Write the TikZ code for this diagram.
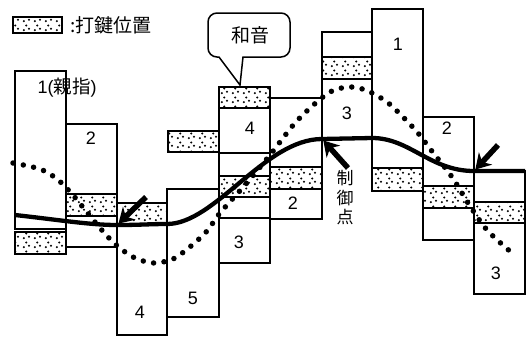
\documentclass[tikz,border=0pt]{standalone}
\usepackage{fontspec}
\setmainfont{Liberation Sans}
\newfontfamily\jp{Noto Sans CJK JP}
\usepackage{tikz}
\usetikzlibrary{patterns}
\usetikzlibrary{arrows.meta}
\pgfdeclarepatternformonly{keydots}{\pgfpointorigin}{\pgfpoint{11pt}{9pt}}{\pgfpoint{11pt}{9pt}}{%
	\pgfpathcircle{\pgfpoint{2pt}{2pt}}{1.2pt}
	\pgfpathcircle{\pgfpoint{7.5pt}{3.5pt}}{1.2pt}
	\pgfpathcircle{\pgfpoint{4.5pt}{7pt}}{1.2pt}
	\pgfusepath{fill}}
\tikzset{
	keybox/.style={draw, line width=1.7pt},
	keyhit/.style={keybox, pattern=keydots},
	num/.style={font=\fontsize{18}{18}\selectfont},
	jptext/.style={font=\jp\fontsize{19}{19}\selectfont},
	dotcurve/.style={line width=5.5pt, line cap=round, dash pattern=on 0pt off 10.5pt},
	ctrlcurve/.style={line width=4.3pt},
	ctrlarrow/.style={line width=5.5pt, -{Stealth[length=15pt,width=18pt]}, shorten >=2pt}
}

\begin{document}
\begin{tikzpicture}[x=1pt,y=-1pt]
			\useasboundingbox (0,0) rectangle (528,338);
			\draw[keyhit] (13,17) rectangle (62,33);
			\node[jptext, anchor=west] (legend) at (67,25) {:打鍵位置};
			
			\draw[keybox] (15,71) rectangle (66,229);
			\draw[keyhit] (15,232) rectangle (66,254);
			\draw[keybox] (66,124) rectangle (117,247);
			\draw[keyhit] (66,194) rectangle (117,216);
			\draw[keybox] (117,203) rectangle (167,335);
			\draw[keyhit] (117,203) rectangle (167,224);
			\draw[keybox] (167,189) rectangle (219,317);
			\draw[keyhit] (168,131) rectangle (219,152);
			\draw[keyhit] (219,87) rectangle (270,108);
			\draw[keybox] (219,108) rectangle (270,153);
			\draw[keybox] (219,153) rectangle (270,218);
			\draw[keyhit] (219,176) rectangle (270,197);
			\draw[keybox] (219,218) rectangle (270,263);
			\draw[keybox] (270,98) rectangle (322,219);
			\draw[keyhit] (270,167) rectangle (322,189);
			\draw[keybox] (322,32) rectangle (372,139);
			\draw[keyhit] (322,57) rectangle (372,79);
			\draw[keybox] (372,9) rectangle (423,168);
			\draw[keyhit] (372,168) rectangle (423,191);
			\draw[keybox] (423,117) rectangle (474,240);
			\draw[keyhit] (423,186) rectangle (474,208);
			\draw[keybox] (474,171) rectangle (525,294);
			\draw[keyhit] (474,202) rectangle (525,223);
			
			\node[num] (lab1) at (67,88) {1({\jp\fontsize{18.5}{18.5}\selectfont 親指})};
			\node[num] (lab2) at (91,138) {2};
			\node[num] (lab3) at (140,312) {4};
			\node[num] (lab4) at (193,298) {5};
			\node[num] (lab5) at (250,128) {4};
			\node[num] (lab6) at (239,242) {3};
			\node[num] (lab7) at (293,203) {2};
			\node[num] (lab8) at (347,113) {3};
			\node[num] (lab9) at (398,44) {1};
			\node[num] (lab10) at (447,128) {2};
			\node[num] (lab11) at (496,273) {3};
			
			\draw[dotcurve] plot[smooth] coordinates {(13,163) (40,169) (57,179) (72,194) (86,211) (100,228) (115,244) (133,257) (153,263) (173,259) (191,246) (207,231) (220,213) (245,185) (270,155) (295,123) (318,101) (334,90) (352,87) (368,91) (387,102) (403,117) (418,133) (431,150) (452,177) (468,203) (487,230) (512,253)};
			
			\coordinate (cp1) at (117,225);
			\coordinate (cp2) at (322,139);
			\coordinate (cp3) at (474,171);
			\draw[ctrlcurve] (15,215) .. controls (60,220) and (90,225) .. (cp1) .. controls (140,225) and (150,224) .. (167,224) .. controls (215,224) and (265,139) .. (cp2) -- (372,138) .. controls (410,138) and (430,171) .. (cp3) -- (525,171);
			\coordinate (t1) at (146,197);
			\coordinate (t2) at (348,168);
			\coordinate (t3) at (498,145);
			\draw[ctrlarrow] (t1) -- (cp1);
			\draw[ctrlarrow] (t2) -- (cp2);
			\draw[ctrlarrow] (t3) -- (cp3);
			\node[font=\jp\fontsize{17}{19.5}\selectfont, align=center] (ctrl) at (345,198) {制\\御\\点};
			
			\draw[line width=1.5pt] (240,85) -- (243,57) [rounded corners=9pt] -- (290,57) -- (290,13) -- (208,13) -- (208,57) [sharp corners] -- (219,57) -- cycle;
			\node[jptext] (chord) at (250,35) {和音};
		\end{tikzpicture}
\end{document}
